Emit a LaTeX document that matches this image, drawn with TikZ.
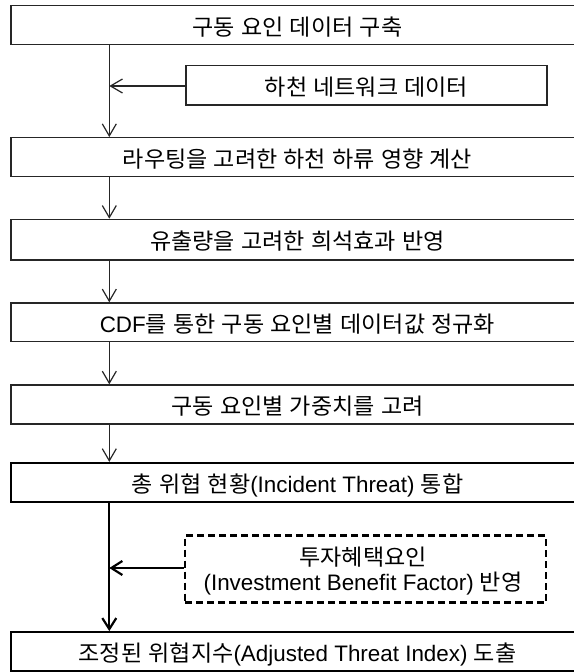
\documentclass[tikz,border=0pt]{standalone}
\usepackage{fontspec}
\setmainfont{Liberation Sans}
\newfontfamily\kr[FakeStretch=1.03,WordSpace=1.2]{Noto Sans CJK KR}
\usetikzlibrary{arrows.meta}
\begin{document}
\begin{tikzpicture}[x=1pt,y=-1pt,
  txt/.style={font=\fontsize{22.4}{25.5}\selectfont, text=black, inner sep=0pt, align=center},
  box/.style={txt, text height=20pt, text depth=0pt, draw=black!85, line width=1.3pt, rectangle},
  mainbox/.style={box, minimum width=573pt},
  boldbox/.style={box, draw=black, line width=2.2pt, minimum width=573pt},
  dbox/.style={draw=black, line width=2.2pt, dash pattern=on 7pt off 4pt, rectangle, inner sep=0pt},
  lbl/.style={txt},
  thinarrow/.style={draw=black!85, line width=1.2pt, -{Straight Barb[length=12pt,width=14pt,line width=1.2pt]}},
  thickarrow/.style={draw=black, line width=2.2pt, -{Straight Barb[length=11pt,width=14pt,line width=2.2pt]}}
]
\useasboundingbox[fill=white] (0,0) rectangle (573,672);
% boxes
\node[mainbox, minimum height=38.6pt] (b1) at (297.5,25) {\kr 구동 요인 데이터 구축};
\node[box, minimum width=361pt, minimum height=39.3pt] (s1) at (366.5,85.4) {\kr 하천 네트워크 데이터};
\node[mainbox, minimum height=39pt] (b2) at (297.5,157.2) {\kr 라우팅을 고려한 하천 하류 영향 계산};
\node[mainbox, minimum height=40.7pt] (b3) at (297.5,239.7) {\kr 유출량을 고려한 희석효과 반영};
\node[mainbox, minimum height=38.7pt] (b4) at (297.5,322.3) {CDF{\kr 를 통한 구동 요인별 데이터값 정규화}};
\node[mainbox, minimum height=39pt] (b5) at (297.5,404.5) {\kr 구동 요인별 가중치를 고려};
\node[boldbox, minimum height=39pt] (b6) at (297.5,482.5) {{\kr 총 위협 현황}(Incident Threat) {\kr 통합}};
\node[dbox, minimum width=361pt, minimum height=67pt] (d1) at (365.5,569) {};
\node[lbl, anchor=base] (td) at (363,590.5) {{\kr 투자혜택요인}\\(Investment Benefit Factor) {\kr 반영}};
\node[boldbox, minimum height=38.8pt] (b7) at (297.5,651.6) {{\kr 조정된 위협지수}(Adjusted Threat Index) {\kr 도출}};
% connectors
\coordinate (j1) at (109.3,86);
\coordinate (j2) at (109.3,568);
\draw[thinarrow] (b1.south -| j1) -- (b2.north -| j1);
\draw[thinarrow] (s1.west |- j1) -- (j1);
\draw[thinarrow] (b2.south -| j1) -- (b3.north -| j1);
\draw[thinarrow] (b3.south -| j1) -- (b4.north -| j1);
\draw[thinarrow] (b4.south -| j1) -- (b5.north -| j1);
\draw[thinarrow] (b5.south -| j1) -- (b6.north -| j1);
\draw[thickarrow] (b6.south -| j2) -- (b7.north -| j2);
\draw[thickarrow] (d1.west |- j2) -- (j2);
\end{tikzpicture}
\end{document}
